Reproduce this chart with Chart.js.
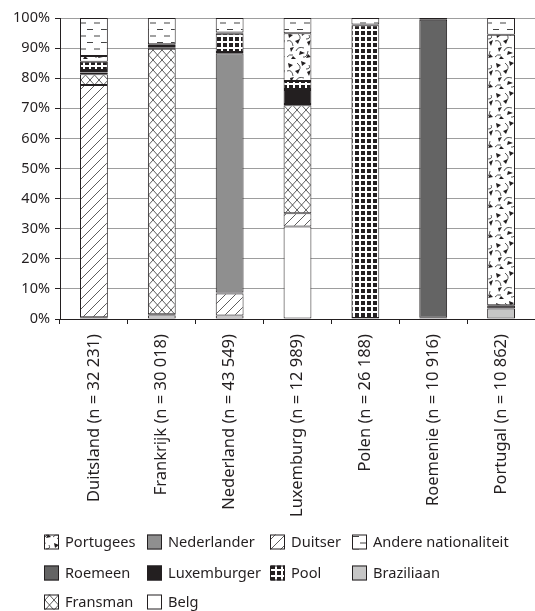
<!DOCTYPE html>
<html>
<head>
<meta charset="utf-8">
<script src="https://cdn.jsdelivr.net/npm/chart.js@4.4.1/dist/chart.umd.min.js"></script>
<style>
  html, body { margin: 0; padding: 0; background: #fff; }
  #wrap { width: 535px; height: 611px; position: relative; }
</style>
</head>
<body>
<div id="wrap"><canvas id="c"></canvas></div>
<script>
// Countries of residence (with sample size)
const categories = [
  'Duitsland (n = 32 231)',
  'Frankrijk (n = 30 018)',
  'Nederland (n = 43 549)',
  'Luxemburg (n = 12 989)',
  'Polen (n = 26 188)',
  'Roemenie (n = 10 916)',
  'Portugal (n = 10 862)'
];

// Share (%) of each nationality per country, listed bottom to top of the stack
const braziliaan  = [0,    0,    0,    0,    0,    0,    3.5];
const belg        = [0.6,  1.2,  1.2,  30.7, 0.3,  0.4,  0];
const duitser     = [77.1, 0.4,  7.3,  4.4,  0,    0,    0];
const fransman    = [3.6,  88.2, 0.3,  35.9, 0,    0,    0];
const nederlander = [0.6,  0.3,  79.5, 0.4,  0,    0,    0];
const luxemburger = [0.5,  0.6,  0.4,  4.7,  0,    0,    1.1];
const roemeen     = [0.3,  0,    0,    0.3,  0,    99.0, 0];
const pool        = [2.8,  0.3,  6.1,  2.7,  97.3, 0,    0];
const portugees   = [1.9,  0.3,  0.4,  15.8, 0.2,  0,    89.8];
const andere      = [12.6, 8.7,  4.8,  5.1,  2.2,  0.6,  5.6];

const yTickValues = [0, 10, 20, 30, 40, 50, 60, 70, 80, 90, 100];

// Legend rows as printed under the chart
const legendRows = [
  ['Portugees', 'Nederlander', 'Duitser', 'Andere nationaliteit'],
  ['Roemeen', 'Luxemburger', 'Pool', 'Braziliaan'],
  ['Fransman', 'Belg']
];

const INK = '#231f20';
const FONT = '"Noto Sans", "DejaVu Sans", sans-serif';

const canvas = document.getElementById('c');
const mainCtx = canvas.getContext('2d');

function makeTile(w, h, paint) {
  const t = document.createElement('canvas');
  t.width = w; t.height = h;
  const g = t.getContext('2d');
  g.fillStyle = '#fff';
  g.fillRect(0, 0, w, h);
  paint(g, w, h);
  return mainCtx.createPattern(t, 'repeat');
}

// single diagonal hatch "/"
const hatchDuitser = makeTile(10, 10, (g, w, h) => {
  g.strokeStyle = '#333'; g.lineWidth = 0.8;
  g.beginPath();
  g.moveTo(0, h); g.lineTo(w, 0);
  g.moveTo(-1, 1); g.lineTo(1, -1);
  g.moveTo(w - 1, h + 1); g.lineTo(w + 1, h - 1);
  g.stroke();
});

// diagonal cross hatch
const hatchFransman = makeTile(9, 10, (g, w, h) => {
  g.strokeStyle = '#333'; g.lineWidth = 0.8;
  g.beginPath();
  g.moveTo(0, 0); g.lineTo(w, h);
  g.moveTo(0, h); g.lineTo(w, 0);
  g.stroke();
});

// black squares separated by white lines
const checkPool = makeTile(6, 6, (g) => {
  g.fillStyle = INK;
  g.fillRect(1, 1, 4, 4);
});

// short horizontal dashes in staggered rows
const dashAndere = makeTile(14, 13, (g) => {
  g.strokeStyle = '#444'; g.lineWidth = 1.2;
  g.beginPath();
  g.moveTo(3, 3.5); g.lineTo(9, 3.5);
  g.moveTo(10, 10); g.lineTo(14, 10);
  g.moveTo(0, 10); g.lineTo(2, 10);
  g.stroke();
});

// speckled texture of small wedges and curls
const speckPortugees = makeTile(26, 30, (g) => {
  g.fillStyle = INK;
  const tris = [
    [[2, 3], [7, 5], [3, 8]],
    [[15, 1], [20, 3], [16, 6]],
    [[9, 11], [14, 9], [12, 14]],
    [[21, 12], [25, 10], [23, 16]],
    [[4, 18], [8, 17], [5, 22]],
    [[14, 21], [19, 23], [13, 25]],
    [[22, 24], [25, 27], [20, 28]],
    [[7, 26], [10, 29], [5, 29]]
  ];
  tris.forEach(p => {
    g.beginPath();
    g.moveTo(p[0][0], p[0][1]);
    g.lineTo(p[1][0], p[1][1]);
    g.lineTo(p[2][0], p[2][1]);
    g.closePath();
    g.fill();
  });
  g.strokeStyle = '#444'; g.lineWidth = 0.9;
  const curls = [
    [1, 11, 6, 9, 7, 16],
    [11, 3, 16, 7, 13, 10],
    [18, 18, 12, 16, 10, 21],
    [23, 5, 25, 9, 20, 9],
    [1, 27, 3, 24, 7, 25],
    [17, 27, 21, 28, 22, 21]
  ];
  curls.forEach(c => {
    g.beginPath();
    g.moveTo(c[0], c[1]);
    g.quadraticCurveTo(c[2], c[3], c[4], c[5]);
    g.stroke();
  });
});

const fills = {
  'Braziliaan': '#c6c6c6',
  'Belg': '#ffffff',
  'Duitser': hatchDuitser,
  'Fransman': hatchFransman,
  'Nederlander': '#8f8f8f',
  'Luxemburger': INK,
  'Roemeen': '#646464',
  'Pool': checkPool,
  'Portugees': speckPortugees,
  'Andere nationaliteit': dashAndere
};

const series = [
  ['Braziliaan', braziliaan],
  ['Belg', belg],
  ['Duitser', duitser],
  ['Fransman', fransman],
  ['Nederlander', nederlander],
  ['Luxemburger', luxemburger],
  ['Roemeen', roemeen],
  ['Pool', pool],
  ['Portugees', portugees],
  ['Andere nationaliteit', andere]
];

const datasets = series.map(([label, data]) => ({
  label,
  data,
  backgroundColor: fills[label],
  borderColor: INK,
  borderWidth: 1,
  borderSkipped: false,
  categoryPercentage: 1,
  barPercentage: 0.41
}));

// legend drawn as a fixed grid under the axis labels
const gridLegend = {
  id: 'gridLegend',
  afterDraw(chart) {
    const ctx = chart.ctx;
    const colX = [44, 147, 270, 352];
    const rowY = [542, 573, 602];
    const box = 15;
    ctx.save();
    ctx.font = '14.6px ' + FONT;
    ctx.textBaseline = 'middle';
    ctx.textAlign = 'left';
    legendRows.forEach((row, r) => {
      row.forEach((label, c) => {
        const x = colX[c], y = rowY[r];
        ctx.fillStyle = fills[label];
        ctx.fillRect(x, y - box / 2, box, box);
        ctx.strokeStyle = INK;
        ctx.lineWidth = 1;
        ctx.strokeRect(x + 0.5, y - box / 2 + 0.5, box - 1, box - 1);
        ctx.fillStyle = INK;
        ctx.fillText(label, x + 21, y + 1);
      });
    });
    ctx.restore();
  }
};

new Chart(canvas, {
  type: 'bar',
  data: { labels: categories, datasets },
  options: {
    responsive: true,
    maintainAspectRatio: false,
    animation: false,
    events: [],
    layout: { padding: { top: 18, left: 0, right: 0, bottom: 0 } },
    plugins: {
      legend: { display: false },
      tooltip: { enabled: false }
    },
    scales: {
      x: {
        stacked: true,
        grid: {
          offset: true,
          drawOnChartArea: false,
          drawTicks: true,
          tickLength: 5,
          tickColor: INK,
          lineWidth: 1
        },
        border: { color: INK, width: 1 },
        ticks: {
          autoSkip: false,
          minRotation: 90,
          maxRotation: 90,
          padding: 10,
          color: INK,
          font: { family: FONT, size: 16.5 }
        },
        afterFit(scale) { scale.height = 292; }
      },
      y: {
        stacked: true,
        min: 0,
        max: 100,
        afterBuildTicks(scale) { scale.ticks = yTickValues.map(v => ({ value: v })); },
        grid: {
          color: '#9d9d9d',
          lineWidth: 1,
          tickLength: 5,
          tickColor: INK
        },
        border: { color: INK, width: 1 },
        ticks: {
          padding: 5,
          color: INK,
          font: { family: FONT, size: 14.5 },
          callback: v => v + '%'
        },
        afterFit(scale) { scale.width = 60; }
      }
    }
  },
  plugins: [gridLegend]
});
</script>
</body>
</html>
